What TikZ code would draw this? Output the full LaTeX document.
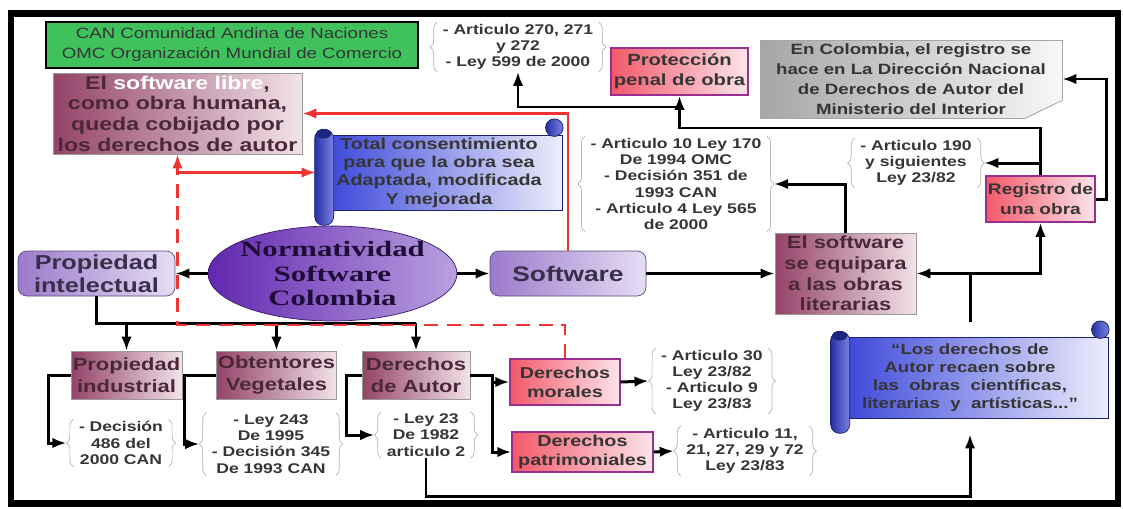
\documentclass[tikz,border=0pt]{standalone}
\usepackage{fontspec}
\setmainfont{Liberation Sans}[FakeStretch=1.25]
\newfontfamily\serifnorm{Liberation Serif}[FakeStretch=1.4]
\usetikzlibrary{positioning,calc,arrows.meta,shapes.geometric,decorations.pathreplacing}
\definecolor{Leaf}{HTML}{3FC25C}
\definecolor{Mauve}{HTML}{944367}
\definecolor{MauvePale}{HTML}{F1E3E9}
\definecolor{MauveInk}{HTML}{4A2838}
\definecolor{Salmon}{HTML}{F2596A}
\definecolor{Blush}{HTML}{FCE4EA}
\definecolor{Orchid}{HTML}{9A2E8E}
\definecolor{Lilac}{HTML}{9B7ACB}
\definecolor{LilacPale}{HTML}{E6DDF3}
\definecolor{LilacInk}{HTML}{3A2F4A}
\definecolor{Violet}{HTML}{6227B0}
\definecolor{VioletPale}{HTML}{B9A0E0}
\definecolor{Royal}{HTML}{3440D8}
\definecolor{RoyalPale}{HTML}{EDEDFB}
\definecolor{Ink}{HTML}{353535}
\definecolor{Alarm}{HTML}{EE3333}
\tikzset{
  leaf box/.style={draw=black,line width=1.6pt,fill=Leaf,align=center,inner sep=1pt,
    font=\fontsize{8.5}{11.4}\selectfont,text=Ink},
  mauve box/.style={draw=gray!80,thin,left color=Mauve,right color=MauvePale,align=center,
    inner sep=1pt,font=\bfseries\fontsize{10}{12.5}\selectfont,text=MauveInk},
  rose box/.style={draw=Orchid,thick,left color=Salmon,right color=Blush,align=center,
    inner sep=1pt,font=\bfseries\fontsize{9}{10.8}\selectfont,text=Ink},
  lilac box/.style={draw=Lilac!60!black,thin,rounded corners=5pt,left color=Lilac,
    right color=LilacPale,align=center,inner sep=1pt,
    font=\bfseries\fontsize{12}{13}\selectfont,text=LilacInk},
  scroll box/.style={draw=Royal!50!black,thin,left color=Royal,right color=RoyalPale,
    align=center,inner sep=1pt,text=Ink},
  scroll roll/.style={draw=Royal!50!black,thin,rounded corners=5pt,
    left color=Royal!75!black,right color=Royal!65},
  note box/.style={draw=gray!70,thin,left color=gray!70,right color=gray!6,align=center,
    inner sep=1pt,font=\bfseries\fontsize{8.5}{11.4}\selectfont,text=Ink},
  norm oval/.style={ellipse,draw=Violet!60!black,thin,left color=Violet,
    right color=VioletPale,align=center,inner xsep=-3pt,inner ysep=-2pt,
    font=\serifnorm\bfseries\fontsize{12.5}{14}\selectfont,text=Violet!30!black},
  law list/.style={align=center,inner xsep=7pt,inner ysep=1pt,
    font=\bfseries\fontsize{8}{9.2}\selectfont,text=Ink},
  law brace/.style={decorate,decoration={brace,amplitude=4pt,raise=-4pt},draw=gray!60,thin},
  diagram line/.style={line width=1.7pt,draw=black},
  diagram arrow/.style={diagram line,-{Latex[length=8pt,width=6pt]}},
  red arrow/.style={line width=1.5pt,draw=Alarm,-{Latex[length=8pt,width=6pt]}},
  red dash/.style={line width=1.6pt,draw=Alarm,dash pattern=on 8pt off 5pt}
}
\newcommand\lawbraces[1]{%
  \draw[law brace] (#1.south west) -- (#1.north west);
  \draw[law brace] (#1.north east) -- (#1.south east);}
\newcommand\scrollparts[1]{%
  \draw[scroll roll] ($(#1.north west)+(-1,-5)$) rectangle ($(#1.south west)+(18,15)$);
  \draw[Royal!50!black,fill=Royal!60!black] ($(#1.north west)+(8,-1)$)
    ellipse [x radius=4pt,y radius=2.5pt];
  \draw[scroll roll] ($(#1.north east)+(-8,-7)$) circle [radius=5pt];}

\begin{document}
\begin{tikzpicture}[x=0.02cm,y=-0.02cm]
  \useasboundingbox (0,0) rectangle (1123,508);
  \draw[line width=3.6pt] (11,13.5) rectangle (1118,503.5);
  \coordinate (ytop) at (0,128);
  \coordinate (ymid) at (0,107);
  \coordinate (ybus) at (0,323);
  \coordinate (yred) at (0,325);
  \coordinate (ybot) at (0,496);

  % upper part
  \node[leaf box,minimum width=7.44cm,minimum height=0.92cm] (siglas) at (232,45)
    {CAN Comunidad Andina de Naciones\\OMC Organización Mundial de Comercio};
  \node[mauve box,minimum width=4.98cm,minimum height=1.62cm,
    font=\bfseries\fontsize{10.5}{11.8}\selectfont] (libre) at (177.5,113.5)
    {El \textcolor{white}{software libre},\\como obra humana,\\queda cobijado por\\los derechos de autor};
  \node[scroll box,minimum width=4.92cm,minimum height=1.5cm,
    font=\bfseries\fontsize{9}{10.4}\selectfont] (total) at (439,172.5)
    {Total consentimiento\\para que la obra sea\\Adaptada, modificada\\Y mejorada};
  \scrollparts{total}
  \node[law list] (list270) at (518,47) {- Articulo 270, 271\\y 272\\- Ley 599 de 2000};
  \lawbraces{list270}
  \node[rose box,minimum width=2.74cm,minimum height=0.94cm,
    font=\bfseries\fontsize{9.2}{11.4}\selectfont] (penal) at (679.5,71.5)
    {Protección\\penal de obra};
  \node[note box,minimum width=6.04cm,minimum height=1.56cm] (note) at (911,79)
    {En Colombia, el registro se\\hace en La Dirección Nacional\\de Derechos de Autor del\\Ministerio del Interior};
  \fill[white] ($(note.south east)+(-38,1)$) -- ($(note.south east)+(1,-19)$)
    -- ($(note.south east)+(1,1)$) -- cycle;
  \draw[gray!70,fill=gray!25] ($(note.south east)+(-37,0)$) -- ($(note.south east)+(0,-18)$)
    -- ($(note.south east)+(-21,-8)$) -- cycle;

  % middle row
  \node[norm oval,minimum width=4.98cm,minimum height=1.9cm] (norm) at (332.5,273.5)
    {Normatividad\\Software\\Colombia};
  \node[lilac box,minimum width=3.14cm,minimum height=0.9cm,
    font=\bfseries\fontsize{11.5}{13}\selectfont] (propint) at (96.5,273.5)
    {Propiedad\\intelectual};
  \node[lilac box,minimum width=3.12cm,minimum height=0.9cm] (software) at (568,273.5)
    {Software};
  \node[law list] (lawsomc) at (676,184)
    {- Articulo 10 Ley 170\\De 1994 OMC\\- Decisión 351 de\\1993 CAN\\- Articulo 4 Ley 565\\de 2000};
  \lawbraces{lawsomc}
  \node[mauve box,minimum width=2.82cm,minimum height=1.62cm,
    font=\bfseries\fontsize{10}{11.8}\selectfont] (equipara) at (845.5,273.5)
    {El software\\se equipara\\a las obras\\literarias};
  \node[law list] (law190) at (916,163) {- Articulo 190\\y siguientes\\Ley 23/82};
  \lawbraces{law190}
  \node[rose box,minimum width=2.18cm,minimum height=0.92cm,
    font=\bfseries\fontsize{8.7}{11}\selectfont] (registro) at (1040.5,199)
    {Registro de\\una obra};
  \node[scroll box,minimum width=5.52cm,minimum height=1.62cm,
    font=\bfseries\fontsize{8.5}{10.2}\selectfont] (losder) at (970,377.5)
    {“Los derechos de\\Autor recaen sobre\\las \ obras \ científicas,\\literarias \ y \ artísticas...”};
  \scrollparts{losder}

  % lower row
  \node[mauve box,minimum width=2.18cm,minimum height=0.96cm] (propind) at (126.5,375)
    {Propiedad\\industrial};
  \node[mauve box,minimum width=2.34cm,minimum height=0.96cm] (obtent) at (276.5,375)
    {Obtentores\\Vegetales};
  \node[mauve box,minimum width=2.16cm,minimum height=0.96cm] (derautor) at (416,375)
    {Derechos\\de Autor};
  \node[law list] (list486) at (121,443) {- Decisión\\486 del\\2000 CAN};
  \lawbraces{list486}
  \node[law list] (list243) at (271,444) {- Ley 243\\De 1995\\- Decisión 345\\De 1993 CAN};
  \lawbraces{list243}
  \node[law list] (list23) at (426,435) {- Ley 23\\De 1982\\articulo 2};
  \lawbraces{list23}
  \node[rose box,minimum width=2.2cm,minimum height=0.92cm] (morales) at (565,382)
    {Derechos\\morales};
  \node[rose box,minimum width=2.82cm,minimum height=0.8cm] (patrim) at (582.5,452)
    {Derechos\\patrimoniales};
  \node[law list] (list30) at (712,381) {- Articulo 30\\Ley 23/82\\- Articulo 9\\Ley 23/83};
  \lawbraces{list30}
  \node[law list] (list11) at (745,451) {- Articulo 11,\\21, 27, 29 y 72\\Ley 23/83};
  \lawbraces{list11}

  % connectors
  \draw[diagram arrow] (norm.west) -- (propint.east);
  \draw[diagram arrow] (norm.east) -- (software.west);
  \draw[diagram arrow] (software.east) -- (equipara.west);
  \draw[diagram line] (propint.south) |- (derautor.north |- ybus);
  \draw[diagram arrow] (propind.north |- ybus) -- (propind.north);
  \draw[diagram arrow] (obtent.north |- ybus) -- (obtent.north);
  \draw[diagram arrow] (derautor.north |- ybus) -- (derautor.north);
  \draw[diagram arrow] (propind.west) -- ++(-22,0) |- (list486.west);
  \draw[diagram arrow] (obtent.west) -- ++(-31,0) |- (list243.west);
  \draw[diagram arrow] (derautor.west) -- ++(-15,0) |- (list23.west);
  \draw[diagram arrow] (derautor.east) -- ++(22,0) coordinate (split) |- (patrim.west);
  \draw[diagram arrow] (split |- morales.west) -- (morales.west);
  \draw[diagram arrow] (morales.east) -- (list30.west);
  \draw[diagram arrow] (patrim.east) -- (list11.west);
  \draw[diagram arrow,shorten >=0.32cm] (list23.south) |- (losder.south |- ybot) -- (losder.south);
  \draw[diagram arrow,shorten <=0.3cm] (losder.north) |- (equipara.east);
  \draw[diagram arrow] (losder.north |- equipara.east) -| (registro.south);
  \draw[diagram arrow] (registro.north) |- (penal.south |- ytop) -- (penal.south);
  \draw[diagram arrow] (penal.south |- ymid) -| (list270.south);
  \draw[diagram arrow] (registro.north |- law190.east) -- (law190.east);
  \draw[diagram arrow] (registro.east) -- ++(11,0) |- (note.east);
  \draw[diagram arrow] (equipara.north) |- (lawsomc.east);

  \coordinate (fork) at (libre.south |- total.west);
  \draw[red arrow] (software.north) |- (libre.east);
  \draw[red dash] (morales.north) |- (fork |- yred) -- (fork);
  \draw[red arrow] (fork) -- (libre.south);
  \draw[red arrow] (fork) -- (total.west);
\end{tikzpicture}
\end{document}
